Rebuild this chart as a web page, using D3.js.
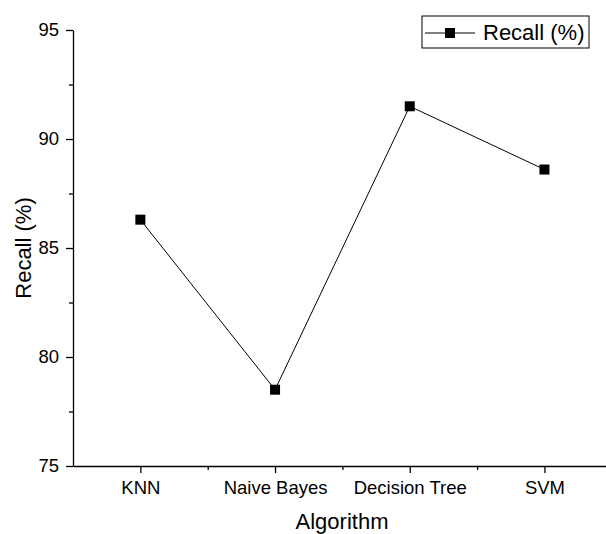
<!DOCTYPE html>
<meta charset="utf-8">
<style>
  body { margin: 0; background: #fff; }
  svg { font-family: "Liberation Sans", Arial, sans-serif; }
  .axis path, .axis line { stroke: #000; stroke-width: 1.3; }
  .axis text { font-size: 18.5px; fill: #000; }
</style>
<svg width="606" height="534"></svg>
<script src="https://d3js.org/d3.v7.min.js"></script>
<script>

var algorithms = ["KNN", "Naive Bayes", "Decision Tree", "SVM"];
var recall = [86.3, 78.5, 91.5, 88.6];
var yTicks = [75, 80, 85, 90, 95];
var yMinor = [77.5, 82.5, 87.5, 92.5];

var svg = d3.select("svg");

var padL = 73, padT = 30, padB = 466;

// categories sit at 1..4, axis runs from 0.5 to 4.5
var x = d3.scaleLinear()
    .domain([0.5, 4.5])
    .range([padL, padL + 4 * 134.7]);

var y = d3.scaleLinear()
    .domain([75, 95])
    .range([padB, padT]);

// minor ticks
svg.append("g")
    .attr("class", "axis")
    .attr("transform", "translate(" + padL + ",0)")
    .call(d3.axisLeft(y).tickValues(yMinor).tickSize(4).tickFormat(""))
  .select(".domain").remove();

svg.append("g")
    .attr("class", "axis")
    .attr("transform", "translate(0," + padB + ")")
    .call(d3.axisBottom(x).tickValues([1.5, 2.5, 3.5]).tickSize(4).tickFormat(""))
  .select(".domain").remove();

svg.append("g")
    .attr("class", "axis")
    .attr("transform", "translate(" + padL + ",0)")
    .call(d3.axisLeft(y).tickValues(yTicks).tickSize(7).tickSizeOuter(0).tickPadding(7));

svg.append("g")
    .attr("class", "axis")
    .attr("transform", "translate(0," + padB + ")")
    .call(d3.axisBottom(x)
      .tickValues([1, 2, 3, 4])
      .tickSize(7)
      .tickSizeOuter(0)
      .tickPadding(8)
      .tickFormat(function(d) { return algorithms[d - 1]; }));

// axis titles
svg.append("text")
    .attr("x", 342)
    .attr("y", 529)
    .attr("text-anchor", "middle")
    .attr("font-size", 22)
    .text("Algorithm");

svg.append("text")
    .attr("transform", "translate(31," + ((padT + padB) / 2) + ") rotate(-90)")
    .attr("text-anchor", "middle")
    .attr("font-size", 22)
    .text("Recall (%)");

// line + markers
var line = d3.line()
    .x(function(d, i) { return x(i + 1); })
    .y(function(d) { return y(d); });

svg.append("path")
    .datum(recall)
    .attr("fill", "none")
    .attr("stroke", "#000")
    .attr("stroke-width", 1)
    .attr("d", line);

svg.selectAll(".pt")
  .data(recall)
  .enter().append("rect")
    .attr("class", "pt")
    .attr("x", function(d, i) { return x(i + 1) - 5; })
    .attr("y", function(d) { return y(d) - 5; })
    .attr("width", 10)
    .attr("height", 10)
    .attr("fill", "#000");

// legend
var lg = svg.append("g").attr("transform", "translate(422,16)");

lg.append("rect")
    .attr("width", 167)
    .attr("height", 32)
    .attr("fill", "#fff")
    .attr("stroke", "#000")
    .attr("stroke-width", 1);

lg.append("line")
    .attr("x1", 3).attr("x2", 53)
    .attr("y1", 17).attr("y2", 17)
    .attr("stroke", "#000");

lg.append("rect")
    .attr("x", 23).attr("y", 12)
    .attr("width", 10).attr("height", 10)
    .attr("fill", "#000");

lg.append("text")
    .attr("x", 61)
    .attr("y", 24)
    .attr("font-size", 22)
    .text("Recall (%)");

</script>
